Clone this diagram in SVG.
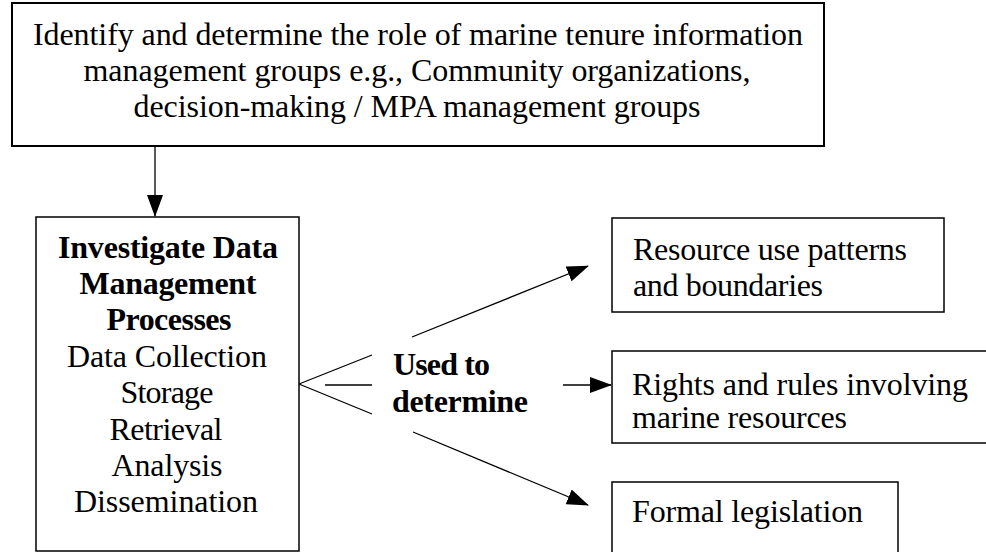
<svg xmlns="http://www.w3.org/2000/svg" width="986" height="552" viewBox="0 0 986 552">
  <style>
    .box { fill: #ffffff; stroke: #000000; stroke-width: 1.5; }
    .box-top { fill: #ffffff; stroke: #000000; stroke-width: 2; }
    .t { font-family: 'Liberation Serif', 'DejaVu Serif', serif; font-size: 32px; fill: #000000; }
    .c { text-anchor: middle; }
    .b { font-weight: bold; }
    .edge { stroke: #000000; stroke-width: 1.3; fill: none; }
  </style>
  <defs>
    <marker id="arrow" markerUnits="userSpaceOnUse" markerWidth="22" markerHeight="16" refX="21" refY="8" orient="auto">
      <path d="M0,0 L22,8 L0,16 Z" fill="#000000"/>
    </marker>
  </defs>

  <rect width="986" height="552" fill="#ffffff"/>

  <g id="connectors">
    <line class="edge" x1="155" y1="146" x2="155" y2="216" marker-end="url(#arrow)"/>
    <!-- fan from the processes box -->
    <line class="edge" x1="299" y1="384" x2="372" y2="355"/>
    <line class="edge" x1="325" y1="385" x2="372" y2="385"/>
    <line class="edge" x1="299" y1="384" x2="372" y2="414"/>
    <!-- arrows to outcomes -->
    <line class="edge" x1="412" y1="337" x2="588" y2="266" marker-end="url(#arrow)"/>
    <line class="edge" x1="563" y1="385" x2="611" y2="385" marker-end="url(#arrow)"/>
    <line class="edge" x1="413" y1="432" x2="588" y2="505" marker-end="url(#arrow)"/>
  </g>

  <g id="identify-groups">
    <rect class="box-top" x="12" y="3" width="812" height="143"/>
    <text class="t c" x="418" y="45" textLength="770" lengthAdjust="spacing">Identify and determine the role of marine tenure information</text>
    <text class="t c" x="417" y="81" textLength="667" lengthAdjust="spacing">management groups e.g., Community organizations,</text>
    <text class="t c" x="417" y="117" textLength="567" lengthAdjust="spacing">decision-making / MPA management groups</text>
  </g>

  <g id="data-processes">
    <rect class="box" x="36" y="217" width="263" height="334"/>
    <text class="t c b" x="168" y="258" textLength="220" lengthAdjust="spacing">Investigate Data</text>
    <text class="t c b" x="168" y="294" textLength="177" lengthAdjust="spacing">Management</text>
    <text class="t c b" x="169" y="330" textLength="125" lengthAdjust="spacing">Processes</text>
    <text class="t c" x="167" y="367" textLength="200" lengthAdjust="spacing">Data Collection</text>
    <text class="t c" x="167" y="403" textLength="93" lengthAdjust="spacing">Storage</text>
    <text class="t c" x="166" y="440" textLength="113" lengthAdjust="spacing">Retrieval</text>
    <text class="t c" x="167" y="476" textLength="111" lengthAdjust="spacing">Analysis</text>
    <text class="t c" x="166" y="512" textLength="184" lengthAdjust="spacing">Dissemination</text>
  </g>

  <g id="used-to-determine">
    <text class="t b" x="393" y="375" textLength="97" lengthAdjust="spacing">Used to</text>
    <text class="t b" x="392" y="412" textLength="136" lengthAdjust="spacing">determine</text>
  </g>

  <g id="resource-use">
    <rect class="box" x="612" y="218" width="332" height="94"/>
    <text class="t" x="633" y="260" textLength="274" lengthAdjust="spacing">Resource use patterns</text>
    <text class="t" x="633" y="296" textLength="190" lengthAdjust="spacing">and boundaries</text>
  </g>

  <g id="rights-rules">
    <rect class="box" x="612" y="351" width="380" height="92"/>
    <text class="t" x="632" y="395" textLength="336" lengthAdjust="spacing">Rights and rules involving</text>
    <text class="t" x="632" y="428" textLength="215" lengthAdjust="spacing">marine resources</text>
  </g>

  <g id="formal-legislation">
    <rect class="box" x="612" y="482" width="286" height="80"/>
    <text class="t" x="632" y="522" textLength="231" lengthAdjust="spacing">Formal legislation</text>
  </g>
</svg>
